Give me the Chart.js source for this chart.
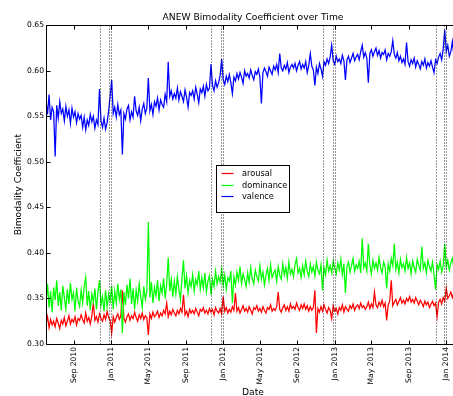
<!DOCTYPE html>
<html>
<head>
<meta charset="utf-8">
<title>ANEW Bimodality Coefficient over Time</title>
<script src="https://cdn.jsdelivr.net/npm/chart.js@4.4.1/dist/chart.umd.min.js"></script>
<style>
  html, body { margin: 0; padding: 0; background: #fff; overflow: hidden; }
  #frame { width: 453px; height: 396px; overflow: hidden; position: relative; }
  #holder { position: absolute; left: 0; top: 0; width: 470px; height: 402px; }
</style>
</head>
<body>
<div id="frame"><div id="holder"><canvas id="chart"></canvas></div></div>
<script>
// Sampled every 5 days starting at seriesStart
const seriesStart = '2010-06-01';
const stepDays = 5;

const arousal = [
  0.322, 0.330, 0.318, 0.327, 0.321, 0.325,
  0.319, 0.328, 0.323, 0.317, 0.326, 0.322,
  0.329, 0.320, 0.325, 0.331, 0.322, 0.327,
  0.324, 0.330, 0.321, 0.328, 0.326, 0.332,
  0.327, 0.323, 0.334, 0.325, 0.329, 0.322,
  0.331, 0.345, 0.326, 0.330, 0.324, 0.333,
  0.328, 0.325, 0.332, 0.327, 0.336, 0.329,
  0.326, 0.312, 0.330, 0.324, 0.329, 0.333,
  0.327, 0.331, 0.359, 0.328, 0.324, 0.330,
  0.333, 0.326, 0.331, 0.328, 0.335, 0.329,
  0.325, 0.332, 0.328, 0.334, 0.327, 0.331,
  0.329, 0.310, 0.333, 0.328, 0.335, 0.330,
  0.332, 0.336, 0.329, 0.334, 0.331, 0.337,
  0.333, 0.345, 0.330, 0.336, 0.332, 0.338,
  0.334, 0.331, 0.337, 0.333, 0.339, 0.335,
  0.354, 0.332, 0.336, 0.330, 0.338, 0.334,
  0.337, 0.333, 0.339, 0.335, 0.331, 0.338,
  0.336, 0.340, 0.334, 0.337, 0.333, 0.339,
  0.335, 0.338, 0.332, 0.340, 0.336, 0.334,
  0.339, 0.333, 0.352, 0.336, 0.340, 0.334,
  0.338, 0.335, 0.341, 0.337, 0.356, 0.336,
  0.340, 0.334, 0.338, 0.342, 0.336, 0.339,
  0.335, 0.341, 0.337, 0.333, 0.340, 0.338,
  0.342, 0.336, 0.339, 0.335, 0.341, 0.337,
  0.334, 0.340, 0.338, 0.343, 0.336, 0.339,
  0.337, 0.341, 0.357, 0.338, 0.335, 0.340,
  0.343, 0.337, 0.341, 0.336, 0.344, 0.339,
  0.341, 0.338, 0.345, 0.340, 0.337, 0.343,
  0.339, 0.344, 0.338, 0.342, 0.336, 0.341,
  0.337, 0.340, 0.359, 0.312, 0.339, 0.335,
  0.341, 0.336, 0.343, 0.338, 0.334, 0.340,
  0.337, 0.328, 0.342, 0.336, 0.339, 0.333,
  0.340, 0.337, 0.343, 0.335, 0.341, 0.338,
  0.336, 0.342, 0.339, 0.344, 0.337, 0.341,
  0.343, 0.339, 0.345, 0.340, 0.342, 0.338,
  0.341, 0.346, 0.339, 0.344, 0.340, 0.357,
  0.343, 0.340, 0.346, 0.342, 0.348, 0.341,
  0.345, 0.326, 0.343, 0.347, 0.370, 0.342,
  0.346, 0.349, 0.343, 0.347, 0.351, 0.345,
  0.348, 0.344, 0.350, 0.347, 0.352, 0.346,
  0.349, 0.345, 0.351, 0.347, 0.343, 0.348,
  0.345, 0.341, 0.347, 0.343, 0.346, 0.340,
  0.344, 0.347, 0.342, 0.345, 0.330, 0.346,
  0.349, 0.344, 0.351, 0.347, 0.361, 0.350,
  0.353, 0.357, 0.351, 0.356, 0.352, 0.358,
  0.354, 0.356
];

const dominance = [
  0.345, 0.366, 0.340, 0.358, 0.335, 0.362,
  0.348, 0.370, 0.342, 0.357, 0.337, 0.364,
  0.351, 0.338, 0.360, 0.344, 0.367, 0.349,
  0.356, 0.336, 0.362, 0.347, 0.341, 0.359,
  0.345, 0.363, 0.373, 0.342, 0.358, 0.337,
  0.355, 0.346, 0.361, 0.338, 0.357, 0.370,
  0.343, 0.352, 0.336, 0.359, 0.341, 0.355,
  0.347, 0.364, 0.338, 0.358, 0.345, 0.366,
  0.349, 0.360, 0.312, 0.357, 0.343, 0.365,
  0.350, 0.372, 0.344, 0.361, 0.338, 0.359,
  0.347, 0.366, 0.352, 0.340, 0.363, 0.349,
  0.358, 0.434, 0.351, 0.368, 0.345, 0.362,
  0.353, 0.370, 0.347, 0.364, 0.356, 0.372,
  0.350, 0.366, 0.395, 0.358, 0.371, 0.352,
  0.369, 0.355, 0.374, 0.360, 0.349, 0.372,
  0.392, 0.361, 0.375, 0.356, 0.370, 0.363,
  0.376, 0.358, 0.371, 0.365, 0.380, 0.360,
  0.373, 0.362, 0.378, 0.357, 0.369, 0.375,
  0.354, 0.371, 0.363, 0.380, 0.366, 0.374,
  0.368, 0.382, 0.364, 0.376, 0.360, 0.373,
  0.369, 0.380, 0.345, 0.374, 0.365, 0.379,
  0.370, 0.385, 0.366, 0.377, 0.371, 0.363,
  0.378, 0.368, 0.384, 0.372, 0.366, 0.381,
  0.374, 0.369, 0.386, 0.371, 0.379, 0.365,
  0.376, 0.383, 0.370, 0.387, 0.373, 0.378,
  0.381, 0.369, 0.385, 0.375, 0.371, 0.388,
  0.376, 0.384, 0.372, 0.390, 0.377, 0.382,
  0.374, 0.387, 0.394, 0.378, 0.383, 0.373,
  0.386, 0.376, 0.391, 0.380, 0.374, 0.388,
  0.379, 0.385, 0.375, 0.390, 0.381, 0.377,
  0.387, 0.359, 0.384, 0.376, 0.392, 0.380,
  0.386, 0.378, 0.391, 0.383, 0.377, 0.389,
  0.381, 0.393, 0.376, 0.388, 0.356, 0.385,
  0.390, 0.379, 0.386, 0.394, 0.380, 0.387,
  0.383, 0.391, 0.378, 0.416, 0.384, 0.389,
  0.380, 0.410, 0.386, 0.377, 0.392, 0.383,
  0.389, 0.381, 0.395, 0.384, 0.378, 0.390,
  0.385, 0.361, 0.388, 0.380, 0.394, 0.386,
  0.410, 0.382, 0.390, 0.378, 0.393, 0.384,
  0.388, 0.380, 0.395, 0.383, 0.389, 0.377,
  0.391, 0.384, 0.379, 0.393, 0.386, 0.381,
  0.407, 0.383, 0.389, 0.378, 0.392, 0.385,
  0.380, 0.390, 0.376, 0.360, 0.387, 0.382,
  0.391, 0.379, 0.386, 0.410, 0.384, 0.392,
  0.381, 0.389, 0.394, 0.383, 0.390, 0.385,
  0.388, 0.386
];

const valence = [
  0.568, 0.552, 0.574, 0.546, 0.560, 0.555,
  0.506, 0.562, 0.548, 0.566, 0.553, 0.558,
  0.545, 0.561, 0.550, 0.557, 0.542, 0.559,
  0.549, 0.555, 0.543, 0.553, 0.547, 0.551,
  0.538, 0.549, 0.535, 0.546, 0.540, 0.552,
  0.544, 0.550, 0.537, 0.546, 0.541, 0.580,
  0.545, 0.538, 0.548, 0.536, 0.543, 0.556,
  0.572, 0.590, 0.553, 0.560, 0.549, 0.563,
  0.552, 0.557, 0.508, 0.553, 0.547, 0.558,
  0.562, 0.546, 0.555, 0.549, 0.572, 0.556,
  0.551, 0.560, 0.545, 0.558, 0.564, 0.553,
  0.559, 0.592, 0.556, 0.563, 0.552, 0.566,
  0.561, 0.570, 0.557, 0.568, 0.563, 0.560,
  0.574, 0.566, 0.610, 0.572, 0.578, 0.569,
  0.575, 0.570, 0.581, 0.568, 0.577, 0.572,
  0.566, 0.579, 0.571, 0.560, 0.576, 0.573,
  0.578, 0.569, 0.582, 0.574, 0.565, 0.580,
  0.576, 0.583, 0.572, 0.585, 0.578, 0.581,
  0.607, 0.584, 0.578, 0.589, 0.582, 0.587,
  0.595, 0.613, 0.590, 0.585, 0.594, 0.588,
  0.596, 0.587, 0.575, 0.593, 0.589, 0.597,
  0.591, 0.598, 0.593, 0.586, 0.600, 0.594,
  0.597, 0.592, 0.601, 0.595, 0.590, 0.599,
  0.596, 0.602, 0.593, 0.564, 0.598, 0.603,
  0.599, 0.594, 0.604, 0.600, 0.596, 0.605,
  0.601, 0.607, 0.598, 0.619, 0.603, 0.600,
  0.606, 0.602, 0.609, 0.598, 0.604, 0.607,
  0.603, 0.608, 0.600, 0.606, 0.610, 0.602,
  0.607, 0.603, 0.610, 0.598, 0.606, 0.619,
  0.605, 0.601, 0.584, 0.604, 0.597, 0.608,
  0.602, 0.594, 0.610, 0.606, 0.613, 0.608,
  0.615, 0.628, 0.611, 0.607, 0.616, 0.610,
  0.613, 0.608, 0.617, 0.611, 0.590, 0.612,
  0.616, 0.609, 0.614, 0.619, 0.611, 0.615,
  0.618, 0.612, 0.621, 0.628, 0.615, 0.620,
  0.614, 0.587, 0.619, 0.623, 0.616, 0.621,
  0.625, 0.617, 0.622, 0.614, 0.620, 0.618,
  0.623, 0.612, 0.619, 0.616, 0.621, 0.633,
  0.618, 0.614, 0.620, 0.611, 0.616, 0.609,
  0.613, 0.607, 0.631, 0.610, 0.605, 0.612,
  0.608, 0.614, 0.604, 0.611, 0.607, 0.602,
  0.610, 0.606, 0.613, 0.603, 0.609, 0.605,
  0.611, 0.604, 0.598, 0.612, 0.608, 0.615,
  0.619, 0.612, 0.624, 0.645, 0.621, 0.628,
  0.616, 0.621, 0.632, 0.617, 0.619, 0.613,
  0.616, 0.614
];

const tickDates = ['2010-09-01', '2011-01-01', '2011-05-01', '2011-09-01', '2012-01-01', '2012-05-01',
                   '2012-09-01', '2013-01-01', '2013-05-01', '2013-09-01', '2014-01-01'];
const tickLabels = ['Sep 2010', 'Jan 2011', 'May 2011', 'Sep 2011', 'Jan 2012', 'May 2012',
                    'Sep 2012', 'Jan 2013', 'May 2013', 'Sep 2013', 'Jan 2014'];
const yTickValues = [0.30, 0.35, 0.40, 0.45, 0.50, 0.55, 0.60, 0.65];

// Thanksgiving, Christmas and New Year's Day of each season
const holidayDates = ['2010-11-25', '2010-12-25', '2011-01-01',
                      '2011-11-24', '2011-12-25', '2012-01-01',
                      '2012-11-22', '2012-12-25', '2013-01-01',
                      '2013-11-28', '2013-12-25', '2014-01-01'];

const DAY_MS = 86400000;
const toDay = s => Date.parse(s + 'T00:00:00Z') / DAY_MS;
const firstDay = toDay(seriesStart);
const toPoints = arr => arr.map((v, i) => ({ x: firstDay + i * stepDays, y: v }));

const FONT = 'DejaVu Sans';
Chart.defaults.font.family = FONT;
Chart.defaults.color = '#000';

// Holiday markers, axes frame with inward ticks, and the legend box
const decorations = {
  id: 'decorations',
  afterDatasetsDraw(chart) {
    const { ctx, chartArea: a, scales: { x, y } } = chart;
    const L = Math.round(a.left) + 0.5, R = Math.round(a.right) + 0.5;
    const T = Math.round(a.top) + 0.5, B = Math.round(a.bottom) + 0.5;
    ctx.save();

    ctx.strokeStyle = 'rgba(0,0,0,0.8)';
    ctx.lineWidth = 1;
    ctx.setLineDash([1, 2]);
    holidayDates.forEach(d => {
      const px = Math.round(x.getPixelForValue(toDay(d))) + 0.5;
      ctx.beginPath();
      ctx.moveTo(px, T);
      ctx.lineTo(px, B);
      ctx.stroke();
    });
    ctx.setLineDash([]);

    ctx.strokeStyle = '#000';
    ctx.lineWidth = 1;
    ctx.strokeRect(L, T, R - L, B - T);

    const tl = 4;
    ctx.beginPath();
    tickDates.forEach(d => {
      const px = Math.round(x.getPixelForValue(toDay(d))) + 0.5;
      ctx.moveTo(px, B); ctx.lineTo(px, B - tl);
      ctx.moveTo(px, T); ctx.lineTo(px, T + tl);
    });
    yTickValues.forEach(v => {
      const py = Math.round(y.getPixelForValue(v)) + 0.5;
      ctx.moveTo(L, py); ctx.lineTo(L + tl, py);
      ctx.moveTo(R, py); ctx.lineTo(R - tl, py);
    });
    ctx.stroke();

    // legend
    const lx = Math.round(a.left + 170) + 0.5;
    const ly = Math.round(a.top + 140) + 0.5;
    const lw = 73, lh = 47;
    ctx.fillStyle = '#fff';
    ctx.fillRect(lx, ly, lw, lh);
    ctx.strokeStyle = '#000';
    ctx.strokeRect(lx, ly, lw, lh);
    ctx.font = '8.2px "' + FONT + '"';
    ctx.textBaseline = 'middle';
    ctx.textAlign = 'left';
    chart.data.datasets.forEach((ds, k) => {
      const ry = Math.round(ly + 7.5 + k * 11.5) + 0.5;
      ctx.strokeStyle = ds.borderColor;
      ctx.lineWidth = 1.2;
      ctx.beginPath();
      ctx.moveTo(lx + 5, ry);
      ctx.lineTo(lx + 17, ry);
      ctx.stroke();
      ctx.fillStyle = '#000';
      ctx.fillText(ds.label, lx + 25.5, ry);
    });

    ctx.restore();
  }
};

new Chart(document.getElementById('chart'), {
  type: 'line',
  data: {
    datasets: [
      { label: 'arousal', data: toPoints(arousal), borderColor: '#ff0000', order: 2 },
      { label: 'dominance', data: toPoints(dominance), borderColor: '#00ff00', order: 1 },
      { label: 'valence', data: toPoints(valence), borderColor: '#0000ff', order: 0 }
    ]
  },
  options: {
    responsive: true,
    maintainAspectRatio: false,
    devicePixelRatio: 1,
    animation: false,
    layout: { padding: { left: 0, right: 10, top: 0, bottom: 0 } },
    elements: {
      line: { borderWidth: 1.25, tension: 0, fill: false },
      point: { radius: 0, hoverRadius: 0 }
    },
    plugins: {
      legend: { display: false },
      tooltip: { enabled: false },
      title: {
        display: true,
        text: 'ANEW Bimodality Coefficient over Time',
        fullSize: false,
        color: '#000',
        font: { family: FONT, size: 9.2, weight: 'normal' },
        padding: { top: 12, bottom: 2.2 }
      }
    },
    scales: {
      x: {
        type: 'linear',
        min: firstDay,
        max: firstDay + (valence.length - 1) * stepDays,
        afterBuildTicks: s => { s.ticks = tickDates.map(d => ({ value: toDay(d) })); },
        afterFit: s => { s.height = 58; },
        grid: { display: false, drawTicks: false },
        border: { display: false },
        ticks: {
          autoSkip: false,
          maxRotation: 90,
          minRotation: 90,
          padding: 3,
          color: '#000',
          font: { family: FONT, size: 7.6 },
          callback: (v, i) => tickLabels[i]
        },
        title: {
          display: true,
          text: 'Date',
          color: '#000',
          font: { family: FONT, size: 9.2 },
          padding: { top: 0, bottom: 3.6 }
        }
      },
      y: {
        min: 0.30,
        max: 0.65,
        afterBuildTicks: s => { s.ticks = yTickValues.map(v => ({ value: v })); },
        afterFit: s => { s.width = 46; },
        grid: { display: false, drawTicks: false },
        border: { display: false },
        ticks: {
          padding: 2,
          color: '#000',
          font: { family: FONT, size: 7.6 },
          callback: v => v.toFixed(2)
        },
        title: {
          display: true,
          text: 'Bimodality Coefficient',
          color: '#000',
          font: { family: FONT, size: 9.2 },
          padding: { top: 12.6, bottom: 0 }
        }
      }
    }
  },
  plugins: [decorations]
});
</script>
</body>
</html>
